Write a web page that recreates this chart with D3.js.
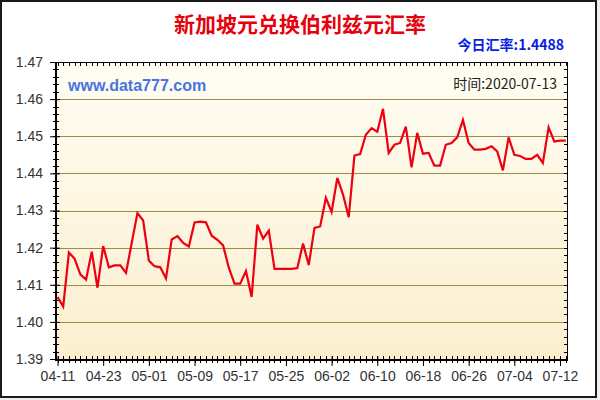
<!DOCTYPE html>
<html><head><meta charset="utf-8">
<script src="https://cdn.jsdelivr.net/npm/d3@7"></script>
<style>html,body{margin:0;padding:0;background:#fff;}svg{display:block;}</style>
</head><body>
<svg id="c" width="600" height="400"></svg>
<script>
const title = "新加坡元兑换伯利兹元汇率";
const todayLabel = "今日汇率:1.4488";
const siteLabel = "www.data777.com";
const timeLabel = "时间:2020-07-13";
const xTickLabels = ["04-11","04-23","05-01","05-09","05-17","05-25","06-02","06-10","06-18","06-26","07-04","07-12"];
const yTickValues = [1.39,1.40,1.41,1.42,1.43,1.44,1.45,1.46,1.47];
const rates = [
 1.4067,1.4041,1.4187,1.4170,1.4128,1.4114,1.4189,1.4092,1.4204,1.4147,
 1.4152,1.4152,1.4132,1.4213,1.4293,1.4273,1.4165,1.4150,1.4147,1.4117,
 1.4222,1.4231,1.4213,1.4203,1.4268,1.4270,1.4268,1.4232,1.4221,1.4206,
 1.4146,1.4103,1.4103,1.4137,1.4067,1.4262,1.4224,1.4246,1.4143,1.4143,
 1.4143,1.4143,1.4145,1.4211,1.4153,1.4253,1.4257,1.4334,1.4296,1.4388,
 1.4343,1.4282,1.4448,1.4452,1.4504,1.4522,1.4512,1.4574,1.4455,1.4477,
 1.4482,1.4526,1.4416,1.4509,1.4453,1.4455,1.4421,1.4421,1.4477,1.4482,
 1.4497,1.4544,1.4482,1.4464,1.4464,1.4466,1.4473,1.4459,1.4408,1.4497,
 1.4450,1.4447,1.4439,1.4439,1.4450,1.4428,1.4524,1.4486,1.4488,1.4488
];
const labelEvery = 8;

const svg = d3.select("#c");
const L = 56, R = 568, T = 62, B = 359;

const x = d3.scaleLinear().domain([0, rates.length - 0.6]).range([L + 1.5, R]);
const y = d3.scaleLinear().domain([d3.min(yTickValues), d3.max(yTickValues)]).range([B, T]);

// outer background & border
svg.append("rect").attr("x",0).attr("y",0).attr("width",600).attr("height",400).attr("fill","#eeeeee");
svg.append("rect").attr("x",1).attr("y",1).attr("width",595).attr("height",396).attr("fill","#ffffff").attr("stroke","#1a1a1a").attr("stroke-width",2);

// plot background gradient
const defs = svg.append("defs");
const g = defs.append("linearGradient").attr("id","bg").attr("x1",0).attr("y1",0).attr("x2",0).attr("y2",1);
g.append("stop").attr("offset","0%").attr("stop-color","#fffdf3");
g.append("stop").attr("offset","100%").attr("stop-color","#fbefd0");
svg.append("rect").attr("x",L).attr("y",T).attr("width",R-L).attr("height",B-T).attr("fill","url(#bg)");

// grid lines
svg.append("g").selectAll("line").data(yTickValues.slice(1)).join("line")
  .attr("x1",L).attr("x2",R).attr("y1",d=>Math.round(y(d))+0.5).attr("y2",d=>Math.round(y(d))+0.5)
  .attr("stroke","#a08a4a").attr("stroke-width",1);

// minor ticks values
const yMinor = d3.range(0, 41).map(i => 1.39 + i*0.002);
const xIdx = d3.range(0, rates.length);

// left axis
const yAxis = d3.axisLeft(y).tickValues(yTickValues).tickFormat(d3.format(".2f")).tickSize(6).tickSizeOuter(0);
const ya = svg.append("g").attr("transform",`translate(${L},0)`).call(yAxis);
ya.select(".domain").remove();
ya.selectAll("text").attr("font-family","Liberation Sans, Arial, sans-serif").attr("font-size",14).attr("fill","#333").attr("x",-13);
ya.selectAll(".tick line").attr("stroke","#000").attr("x1",4);
svg.append("g").selectAll("line").data(yMinor).join("line")
  .attr("x1",L-3).attr("x2",L+3).attr("y1",d=>Math.round(y(d))+0.5).attr("y2",d=>Math.round(y(d))+0.5).attr("stroke","#000");
// right minor ticks
svg.append("g").selectAll("line").data(yMinor).join("line")
  .attr("x1",R-4).attr("x2",R).attr("y1",d=>Math.round(y(d))+0.5).attr("y2",d=>Math.round(y(d))+0.5).attr("stroke","#000");

// bottom axis
const xAxis = d3.axisBottom(x).tickValues(xIdx.filter(i=>i%labelEvery===0))
  .tickFormat(i => xTickLabels[i/labelEvery]).tickSize(6).tickSizeOuter(0);
const xa = svg.append("g").attr("transform",`translate(0,${B+1})`).call(xAxis);
xa.select(".domain").remove();
xa.selectAll("text").attr("font-family","Liberation Sans, Arial, sans-serif").attr("font-size",14).attr("fill","#333").attr("y",11);
xa.selectAll(".tick line").attr("stroke","#000").attr("y1",-4);
svg.append("g").selectAll("line").data(xIdx).join("line")
  .attr("x1",d=>Math.round(x(d))+0.5).attr("x2",d=>Math.round(x(d))+0.5).attr("y1",B-3).attr("y2",B+4).attr("stroke","#000");
// top minor ticks
svg.append("g").selectAll("line").data(xIdx).join("line")
  .attr("x1",d=>Math.round(x(d))+0.5).attr("x2",d=>Math.round(x(d))+0.5).attr("y1",T).attr("y2",T+4).attr("stroke","#000");

// frame
svg.append("rect").attr("x",L+0.5).attr("y",T+0.5).attr("width",R-L-1).attr("height",B-T+1)
  .attr("fill","none").attr("stroke","#000").attr("stroke-width",1);
svg.append("line").attr("x1",L).attr("x2",R).attr("y1",B+1).attr("y2",B+1).attr("stroke","#000").attr("stroke-width",2);
svg.append("line").attr("x1",L).attr("x2",L).attr("y1",T).attr("y2",B+2).attr("stroke","#000").attr("stroke-width",2);

// line
svg.append("path").datum(rates)
  .attr("d", d3.line().x((d,i)=>x(i)).y(d=>y(d)))
  .attr("fill","none").attr("stroke","#ee0010").attr("stroke-width",2.2).attr("stroke-linejoin","miter");

// texts
svg.append("text").attr("x",300).attr("y",32).attr("text-anchor","middle")
  .attr("font-family","Noto Sans CJK SC, sans-serif").attr("font-weight","bold").attr("font-size",21)
  .attr("fill","#e8000b").text(title);
svg.append("text").attr("x",564).attr("y",50).attr("text-anchor","end")
  .attr("font-family","Noto Sans CJK SC, sans-serif").attr("font-weight","bold").attr("font-size",14)
  .attr("fill","#0a1ee0").text(todayLabel);
svg.append("text").attr("x",68).attr("y",91)
  .attr("font-family","Liberation Sans, Arial, sans-serif").attr("font-weight","bold").attr("font-size",16)
  .attr("fill","#4a73e0").text(siteLabel);
svg.append("text").attr("x",557).attr("y",89).attr("text-anchor","end")
  .attr("font-family","Noto Sans CJK SC, sans-serif").attr("font-size",14)
  .attr("fill","#222").text(timeLabel);
</script>
</body></html>
